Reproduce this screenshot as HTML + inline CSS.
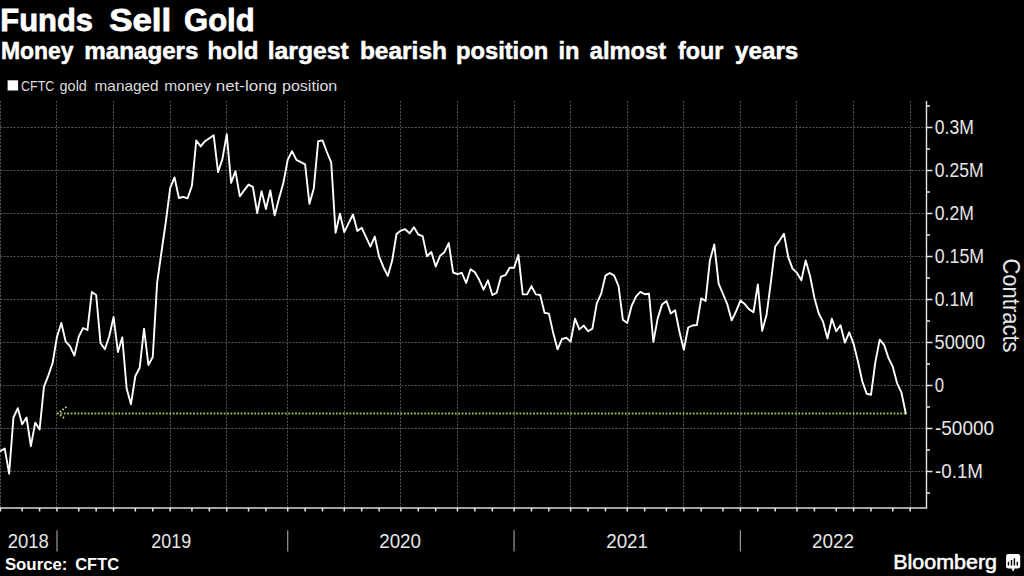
<!DOCTYPE html><html><head><meta charset="utf-8"><style>html,body{margin:0;padding:0;background:#000;width:1024px;height:576px;overflow:hidden}svg{display:block}text{font-family:"Liberation Sans",sans-serif}</style></head><body>
<svg width="1024" height="576" viewBox="0 0 1024 576">
<rect width="1024" height="576" fill="#000"/>
<text x="0.30" y="31.1" font-size="31" font-weight="bold" fill="#fff" stroke="#fff" stroke-width="0.8" textLength="92.70" lengthAdjust="spacingAndGlyphs">Funds</text>
<text x="109.20" y="31.1" font-size="31" font-weight="bold" fill="#fff" stroke="#fff" stroke-width="0.8" textLength="62.07" lengthAdjust="spacingAndGlyphs">Sell</text>
<text x="184.10" y="31.1" font-size="31" font-weight="bold" fill="#fff" stroke="#fff" stroke-width="0.8" textLength="70.51" lengthAdjust="spacingAndGlyphs">Gold</text>
<text x="1.00" y="58.6" font-size="23" font-weight="bold" fill="#fff" stroke="#fff" stroke-width="0.5" textLength="72.63" lengthAdjust="spacingAndGlyphs">Money</text>
<text x="84.30" y="58.6" font-size="23" font-weight="bold" fill="#fff" stroke="#fff" stroke-width="0.5" textLength="114.14" lengthAdjust="spacingAndGlyphs">managers</text>
<text x="207.60" y="58.6" font-size="23" font-weight="bold" fill="#fff" stroke="#fff" stroke-width="0.5" textLength="50.80" lengthAdjust="spacingAndGlyphs">hold</text>
<text x="267.75" y="58.6" font-size="23" font-weight="bold" fill="#fff" stroke="#fff" stroke-width="0.5" textLength="81.10" lengthAdjust="spacingAndGlyphs">largest</text>
<text x="359.90" y="58.6" font-size="23" font-weight="bold" fill="#fff" stroke="#fff" stroke-width="0.5" textLength="87.10" lengthAdjust="spacingAndGlyphs">bearish</text>
<text x="456.00" y="58.6" font-size="23" font-weight="bold" fill="#fff" stroke="#fff" stroke-width="0.5" textLength="92.17" lengthAdjust="spacingAndGlyphs">position</text>
<text x="558.50" y="58.6" font-size="23" font-weight="bold" fill="#fff" stroke="#fff" stroke-width="0.5" textLength="20.98" lengthAdjust="spacingAndGlyphs">in</text>
<text x="589.80" y="58.6" font-size="23" font-weight="bold" fill="#fff" stroke="#fff" stroke-width="0.5" textLength="76.23" lengthAdjust="spacingAndGlyphs">almost</text>
<text x="677.90" y="58.6" font-size="23" font-weight="bold" fill="#fff" stroke="#fff" stroke-width="0.5" textLength="45.36" lengthAdjust="spacingAndGlyphs">four</text>
<text x="735.10" y="58.6" font-size="23" font-weight="bold" fill="#fff" stroke="#fff" stroke-width="0.5" textLength="63.23" lengthAdjust="spacingAndGlyphs">years</text>
<text x="21.00" y="91.1" font-size="15" fill="#ddd" textLength="33.35" lengthAdjust="spacingAndGlyphs">CFTC</text>
<text x="59.60" y="91.1" font-size="15" fill="#ddd" textLength="27.25" lengthAdjust="spacingAndGlyphs">gold</text>
<text x="94.60" y="91.1" font-size="15" fill="#ddd" textLength="63.91" lengthAdjust="spacingAndGlyphs">managed</text>
<text x="164.30" y="91.1" font-size="15" fill="#ddd" textLength="46.74" lengthAdjust="spacingAndGlyphs">money</text>
<text x="215.70" y="91.1" font-size="15" fill="#ddd" textLength="61.40" lengthAdjust="spacingAndGlyphs">net-long</text>
<text x="282.00" y="91.1" font-size="15" fill="#ddd" textLength="55.28" lengthAdjust="spacingAndGlyphs">position</text>
<text x="934.80" y="134.1" font-size="20" fill="#e6e6e6" textLength="38.95" lengthAdjust="spacingAndGlyphs">0.3M</text>
<text x="934.80" y="177.1" font-size="20" fill="#e6e6e6" textLength="48.82" lengthAdjust="spacingAndGlyphs">0.25M</text>
<text x="934.80" y="220.1" font-size="20" fill="#e6e6e6" textLength="39.02" lengthAdjust="spacingAndGlyphs">0.2M</text>
<text x="934.80" y="263.1" font-size="20" fill="#e6e6e6" textLength="49.37" lengthAdjust="spacingAndGlyphs">0.15M</text>
<text x="934.80" y="306.1" font-size="20" fill="#e6e6e6" textLength="39.02" lengthAdjust="spacingAndGlyphs">0.1M</text>
<text x="934.60" y="349.1" font-size="20" fill="#e6e6e6" textLength="50.47" lengthAdjust="spacingAndGlyphs">50000</text>
<text x="934.80" y="392.1" font-size="20" fill="#e6e6e6" textLength="9.30" lengthAdjust="spacingAndGlyphs">0</text>
<text x="935.00" y="435.1" font-size="20" fill="#e6e6e6" textLength="59.02" lengthAdjust="spacingAndGlyphs">-50000</text>
<text x="935.00" y="478.1" font-size="20" fill="#e6e6e6" textLength="48.00" lengthAdjust="spacingAndGlyphs">-0.1M</text>
<text x="7.70" y="548" font-size="19.5" fill="#e6e6e6" textLength="41.25" lengthAdjust="spacingAndGlyphs">2018</text>
<text x="151.30" y="548" font-size="19.5" fill="#e6e6e6" textLength="39.82" lengthAdjust="spacingAndGlyphs">2019</text>
<text x="379.25" y="548" font-size="19.5" fill="#e6e6e6" textLength="41.72" lengthAdjust="spacingAndGlyphs">2020</text>
<text x="606.25" y="548" font-size="19.5" fill="#e6e6e6" textLength="41.72" lengthAdjust="spacingAndGlyphs">2021</text>
<text x="812.00" y="548" font-size="19.5" fill="#e6e6e6" textLength="42.01" lengthAdjust="spacingAndGlyphs">2022</text>
<text x="4.90" y="569.7" font-size="16" font-weight="bold" fill="#fff" textLength="62.58" lengthAdjust="spacingAndGlyphs">Source:</text>
<text x="75.30" y="569.7" font-size="16" font-weight="bold" fill="#fff" textLength="43.66" lengthAdjust="spacingAndGlyphs">CFTC</text>
<text x="893.25" y="568.7" font-size="20.5" fill="#fff" stroke="#fff" stroke-width="0.55" textLength="103.79" lengthAdjust="spacingAndGlyphs">Bloomberg</text>
<rect x="7.6" y="80.3" width="10.5" height="10.2" fill="#fff"/>
<path d="M0 127.50H926.5M0 170.50H926.5M0 213.50H926.5M0 256.50H926.5M0 299.50H926.5M0 342.50H926.5M0 385.50H926.5M0 428.50H926.5M0 471.50H926.5" stroke="#555" stroke-width="1" stroke-dasharray="2 1.4" fill="none"/>
<path d="M0.50 101.0V508.1M56.50 101.0V508.1M113.50 101.0V508.1M170.50 101.0V508.1M226.50 101.0V508.1M287.50 101.0V508.1M344.50 101.0V508.1M400.50 101.0V508.1M457.50 101.0V508.1M514.50 101.0V508.1M570.50 101.0V508.1M627.50 101.0V508.1M683.50 101.0V508.1M740.50 101.0V508.1M796.50 101.0V508.1M853.50 101.0V508.1M910.50 101.0V508.1" stroke="#555" stroke-width="1" stroke-dasharray="2 1.4" fill="none"/>
<path d="M926.5 101.0V508.1" stroke="#e6e6e6" stroke-width="1.4" fill="none"/><path d="M927.2 508.1H0" stroke="#d8d8d8" stroke-width="1.5" fill="none"/>
<path d="M926.5 127.50h6M926.5 170.50h6M926.5 213.50h6M926.5 256.50h6M926.5 299.50h6M926.5 342.50h6M926.5 385.50h6M926.5 428.50h6M926.5 471.50h6M926.5 106.00h3.5M926.5 149.00h3.5M926.5 192.00h3.5M926.5 235.00h3.5M926.5 278.00h3.5M926.5 321.00h3.5M926.5 364.00h3.5M926.5 407.00h3.5M926.5 450.00h3.5M926.5 493.00h3.5M0.40 508.1v3.4M22.16 508.1v3.4M39.58 508.1v3.4M56.99 508.1v3.4M78.75 508.1v3.4M96.17 508.1v3.4M113.58 508.1v3.4M135.34 508.1v3.4M152.75 508.1v3.4M170.17 508.1v3.4M191.93 508.1v3.4M209.34 508.1v3.4M226.76 508.1v3.4M248.52 508.1v3.4M265.93 508.1v3.4M287.70 508.1v3.4M305.11 508.1v3.4M322.52 508.1v3.4M344.29 508.1v3.4M361.70 508.1v3.4M379.11 508.1v3.4M400.88 508.1v3.4M418.29 508.1v3.4M435.70 508.1v3.4M457.46 508.1v3.4M474.88 508.1v3.4M492.29 508.1v3.4M514.05 508.1v3.4M531.47 508.1v3.4M548.88 508.1v3.4M570.64 508.1v3.4M588.05 508.1v3.4M605.47 508.1v3.4M627.23 508.1v3.4M644.64 508.1v3.4M666.41 508.1v3.4M683.82 508.1v3.4M701.23 508.1v3.4M723.00 508.1v3.4M740.41 508.1v3.4M757.82 508.1v3.4M775.23 508.1v3.4M797.00 508.1v3.4M814.41 508.1v3.4M836.18 508.1v3.4M853.59 508.1v3.4M871.00 508.1v3.4M892.76 508.1v3.4M910.18 508.1v3.4" stroke="#e6e6e6" stroke-width="1.5" fill="none"/>
<text transform="translate(1003 258.5) rotate(90)" font-size="23" fill="#e6e6e6" textLength="94" lengthAdjust="spacingAndGlyphs">Contracts</text>
<path d="M60.5 413.5H905.8" stroke="#97c24e" stroke-width="2" stroke-dasharray="1.8 1.6" fill="none"/>
<path d="M66.5 406.9L57.8 413.5L64.8 418.4" stroke="#b9d584" stroke-width="1.8" stroke-dasharray="1.6 1.8" fill="none"/>
<polyline points="0.40,451.0 4.75,448.6 9.11,473.7 13.46,417.5 17.81,408.2 22.16,424.3 26.52,417.5 30.87,446.2 35.22,422.6 39.58,429.6 43.93,386.8 48.28,375.6 52.64,363.0 56.99,336.7 61.34,323.0 65.70,341.7 70.05,346.3 74.40,355.6 78.75,336.6 83.11,328.0 87.46,330.0 91.81,292.0 96.17,295.0 100.52,343.0 104.87,349.3 109.22,336.5 113.58,317.0 117.93,352.0 122.28,337.3 126.64,388.5 130.99,404.2 135.34,376.0 139.70,367.7 144.05,328.7 148.40,365.0 152.75,357.0 157.11,283.0 161.46,252.0 165.81,222.0 170.17,188.0 174.52,177.4 178.87,198.0 183.23,196.8 187.58,198.3 191.93,185.8 196.28,140.5 200.64,146.4 204.99,141.2 209.34,138.2 213.70,135.3 218.05,172.1 222.40,159.1 226.76,134.2 231.11,182.8 235.46,171.2 239.81,196.4 244.17,190.3 248.52,184.6 252.87,186.8 257.23,213.0 261.58,191.1 265.93,209.0 270.29,190.4 274.64,215.4 278.99,198.6 283.34,183.0 287.70,159.9 292.05,151.2 296.40,159.9 300.76,162.1 305.11,164.4 309.46,203.8 313.82,188.2 318.17,141.3 322.52,140.4 326.87,152.0 331.23,162.6 335.58,232.7 339.93,213.8 344.29,232.2 348.64,223.1 352.99,214.5 357.35,230.9 361.70,227.8 366.05,237.2 370.40,246.6 374.76,236.6 379.11,256.7 383.46,267.2 387.82,275.9 392.17,260.6 396.52,234.0 400.88,230.6 405.23,229.2 409.58,233.4 413.93,227.2 418.29,234.5 422.64,236.1 426.99,256.4 431.35,252.0 435.70,266.6 440.05,255.9 444.41,252.2 448.76,243.1 453.11,272.5 457.46,274.1 461.82,272.8 466.17,283.0 470.52,269.2 474.88,272.2 479.23,279.8 483.58,289.7 487.94,280.3 492.29,295.0 496.64,292.8 500.99,276.7 505.35,275.2 509.70,267.8 514.05,267.8 518.41,254.8 522.76,294.4 527.11,294.4 531.47,286.1 535.82,294.4 540.17,295.0 544.52,312.8 548.88,313.6 553.23,332.9 557.58,349.4 561.94,339.0 566.29,337.8 570.64,341.6 575.00,318.7 579.35,329.4 583.70,325.6 588.05,331.2 592.41,328.6 596.76,303.4 601.11,293.9 605.47,275.6 609.82,273.0 614.17,275.6 618.53,286.0 622.88,319.8 627.23,323.1 631.58,306.0 635.94,296.6 640.29,291.9 644.64,294.2 649.00,293.8 653.35,341.9 657.70,318.4 662.06,304.4 666.41,300.9 670.76,313.4 675.11,310.3 679.47,331.7 683.82,349.7 688.17,327.5 692.53,325.5 696.88,325.0 701.23,298.4 705.59,301.0 709.94,260.2 714.29,244.5 718.64,283.6 723.00,294.0 727.35,304.4 731.70,320.4 736.06,311.4 740.41,300.6 744.76,304.1 749.12,309.3 753.47,312.3 757.82,284.5 762.17,330.8 766.53,314.9 770.88,282.0 775.23,246.5 779.59,240.6 783.94,233.8 788.29,257.3 792.65,268.8 797.00,272.9 801.35,280.2 805.70,260.4 810.06,276.0 814.41,297.9 818.76,313.5 823.12,321.9 827.47,338.5 831.82,318.8 836.18,331.2 840.53,325.2 844.88,342.7 849.23,332.3 853.59,343.8 857.94,361.5 862.29,381.2 866.65,393.8 871.00,394.8 875.35,362.1 879.71,339.6 884.06,344.8 888.41,357.9 892.76,366.7 897.12,383.3 901.47,392.7 905.82,413.5" stroke="#fff" stroke-width="1.9" fill="none" stroke-linejoin="round" stroke-linecap="round"/>
<path d="M56.99 530.2V551.6M287.70 530.2V551.6M514.05 530.2V551.6M740.41 530.2V551.6" stroke="#999" stroke-width="1.2" fill="none"/>
<rect x="1006.1" y="554.1" width="14.1" height="14.3" rx="2.2" fill="#fff"/><path d="M1011.3 568.2L1014.9 568.2L1013.1 571.8Z" fill="#fff"/>
<path d="M1008.5 561.8V565.5M1011.5 560.1V565.5M1014.4 558.2V565.5M1017.3 561.8V565.5" stroke="#000" stroke-width="1.4"/>
</svg></body></html>
